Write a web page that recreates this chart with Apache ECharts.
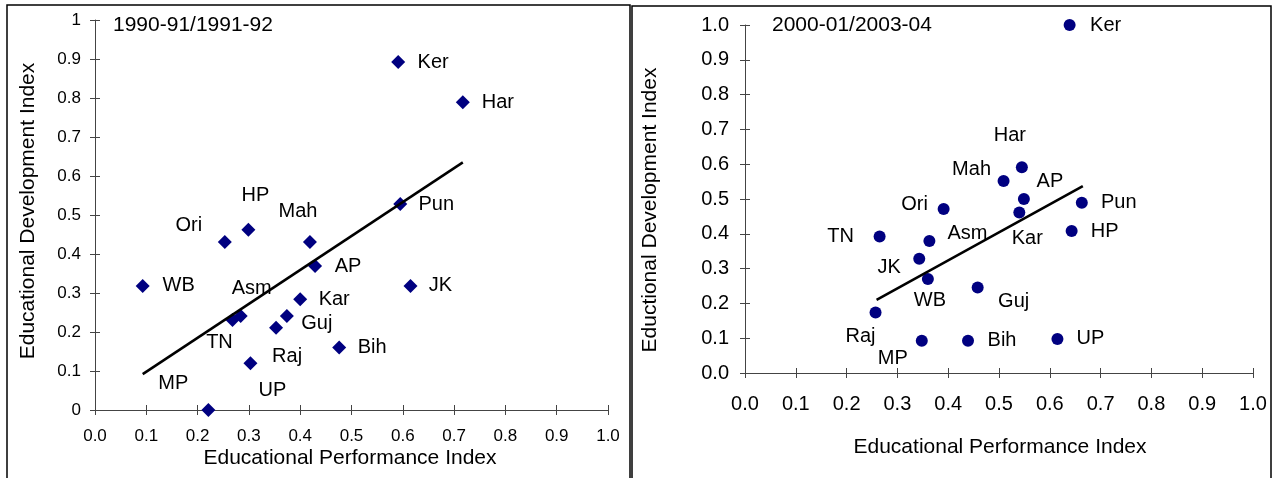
<!DOCTYPE html>
<html>
	<head>
		<meta charset="utf-8">
		<title></title>
		<script src="https://cdn.jsdelivr.net/npm/echarts@6/dist/echarts.min.js"></script>
		<style>
			html,body{margin:0;padding:0;background:#fff;}
			.chart{width:1277px;height:478px;}
		</style>
	</head>
	<body>
		<div class="chart"></div>
		<script>
			// 1990-91/1991-92
			var states1 = ['Ker','Har','Pun','AP','JK','Bih','Kar','Guj','Raj','UP','MP','TN','Asm','WB','Ori','HP','Mah'];
			var perf1 = [0.591,0.717,0.595,0.429,0.615,0.476,0.400,0.374,0.353,0.303,0.221,0.268,0.284,0.093,0.253,0.299,0.419];
			var dev1 = [0.892,0.789,0.528,0.369,0.318,0.160,0.284,0.241,0.211,0.120,0.000,0.231,0.241,0.318,0.431,0.462,0.431];
			var trend1 = [[0.093,0.092],[0.717,0.635]];

			// 2000-01/2003-04
			var states2 = ['Ker','Har','Mah','AP','Kar','Pun','HP','Ori','TN','Asm','JK','WB','Guj','Raj','MP','Bih','UP'];
			var perf2 = [0.639,0.545,0.509,0.549,0.540,0.663,0.643,0.391,0.265,0.363,0.343,0.360,0.458,0.257,0.348,0.439,0.615];
			var dev2 = [1.000,0.591,0.552,0.500,0.461,0.489,0.408,0.471,0.392,0.379,0.328,0.270,0.246,0.174,0.093,0.093,0.098];
			var trend2 = [[0.259,0.210],[0.665,0.537]];

			var font = '"Liberation Sans", Arial, sans-serif';
			var navy = '#000080';

			// where each state label sits relative to its marker
			var offs1 = [[35,0],[35,0],[36,0],[33,0],[30,0],[33,0],[34,0],[30,7],[11,29],[22,27],[-35,-27],[-13,23],[11,-28],[36,0],[-36,-16],[7,-34],[-12,-30]];
			var offs2 = [[36,0],[-12,-32],[-32,-11],[26,-18],[8,26],[37,0],[33,0],[-29,-5],[-39,0],[38,-8],[-30,9],[2,21],[36,14],[-15,24],[-29,18],[34,0],[33,0]];

			function points(names, xs, ys, offs){
				var arr = [];
				for (var i = 0; i < names.length; i++) {
					arr.push({
						name: names[i],
						value: [xs[i], ys[i]],
						label: {offset: offs[i]}
					});
				}
				return arr;
			}

			function valAxis(grid, pos, fs, fmt, margin, inner){
				return {
					type: 'value', gridIndex: grid, position: pos,
					min: 0, max: 1, interval: 0.1,
					axisLine: {show: !inner, onZero: false, lineStyle: {color: '#444', width: 1}},
					axisTick: {show: true, inside: inner, length: 5, lineStyle: {color: '#444', width: 1}},
					axisLabel: {show: !inner, fontSize: fs, fontFamily: font, color: '#000', margin: margin, formatter: fmt},
					splitLine: {show: false}
				};
			}
			var fmtL = function(v){ return v === 0 ? '0' : (v === 1 ? '1' : v.toFixed(1)); };
			var fmtX = function(v){ return v.toFixed(1); };

			var myChart = echarts.init(document.querySelector('.chart'));
			myChart.setOption({
				animation: false,
				backgroundColor: '#fff',
				grid: [
					{left: 95, top: 20, width: 513, height: 390},
					{left: 745, top: 25, width: 508, height: 348}
				],
				xAxis: [
					valAxis(0, 'bottom', 17, fmtX, 18, false),
					valAxis(0, 'bottom', 17, fmtX, 18, true),
					valAxis(1, 'bottom', 20, fmtX, 21, false),
					valAxis(1, 'bottom', 20, fmtX, 21, true)
				],
				yAxis: [
					valAxis(0, 'left', 17, fmtL, 14, false),
					valAxis(0, 'left', 17, fmtL, 14, true),
					valAxis(1, 'left', 20, fmtX, 16, false),
					valAxis(1, 'left', 20, fmtX, 16, true)
				],
				graphic: [
					{type: 'rect', shape: {x: 7, y: 5, width: 623, height: 490}, style: {fill: 'none', stroke: '#000', lineWidth: 1.5}},
					{type: 'rect', shape: {x: 632, y: 6, width: 639, height: 490}, style: {fill: 'none', stroke: '#000', lineWidth: 1.5}},
					{type: 'text', x: 113, y: 25, style: {text: '1990-91/1991-92', font: '21px ' + font, fill: '#000', textAlign: 'left', textVerticalAlign: 'middle', align: 'left', verticalAlign: 'middle'}},
					{type: 'text', x: 772, y: 25, style: {text: '2000-01/2003-04', font: '21px ' + font, fill: '#000', textAlign: 'left', textVerticalAlign: 'middle', align: 'left', verticalAlign: 'middle'}},
					{type: 'text', x: 350, y: 458, style: {text: 'Educational Performance Index', font: '21px ' + font, fill: '#000', textAlign: 'center', textVerticalAlign: 'middle', align: 'center', verticalAlign: 'middle'}},
					{type: 'text', x: 1000, y: 447, style: {text: 'Educational Performance Index', font: '21px ' + font, fill: '#000', textAlign: 'center', textVerticalAlign: 'middle', align: 'center', verticalAlign: 'middle'}},
					{type: 'text', x: 28, y: 211, rotation: Math.PI / 2, style: {text: 'Educational Development Index', font: '21px ' + font, fill: '#000', textAlign: 'center', textVerticalAlign: 'middle', align: 'center', verticalAlign: 'middle'}},
					{type: 'text', x: 650, y: 210, rotation: Math.PI / 2, style: {text: 'Eductional Development Index', font: '21px ' + font, fill: '#000', textAlign: 'center', textVerticalAlign: 'middle', align: 'center', verticalAlign: 'middle'}}
				],
				series: [
					{
						type: 'scatter', xAxisIndex: 0, yAxisIndex: 0,
						symbol: 'diamond', symbolSize: 14, clip: false,
						itemStyle: {color: navy, opacity: 1},
						label: {show: true, position: 'inside', formatter: '{b}', fontSize: 20, fontFamily: font, color: '#000'},
						data: points(states1, perf1, dev1, offs1)
					},
					{
						type: 'line', xAxisIndex: 0, yAxisIndex: 0, z: 5,
						symbol: 'none', lineStyle: {color: '#000', width: 2.5},
						data: trend1
					},
					{
						type: 'scatter', xAxisIndex: 2, yAxisIndex: 2,
						symbol: 'circle', symbolSize: 12, clip: false,
						itemStyle: {color: navy, opacity: 1},
						label: {show: true, position: 'inside', formatter: '{b}', fontSize: 20, fontFamily: font, color: '#000'},
						data: points(states2, perf2, dev2, offs2)
					},
					{
						type: 'line', xAxisIndex: 2, yAxisIndex: 2, z: 5,
						symbol: 'none', lineStyle: {color: '#000', width: 2.5},
						data: trend2
					}
				]
			});
		</script>
	</body>
</html>
